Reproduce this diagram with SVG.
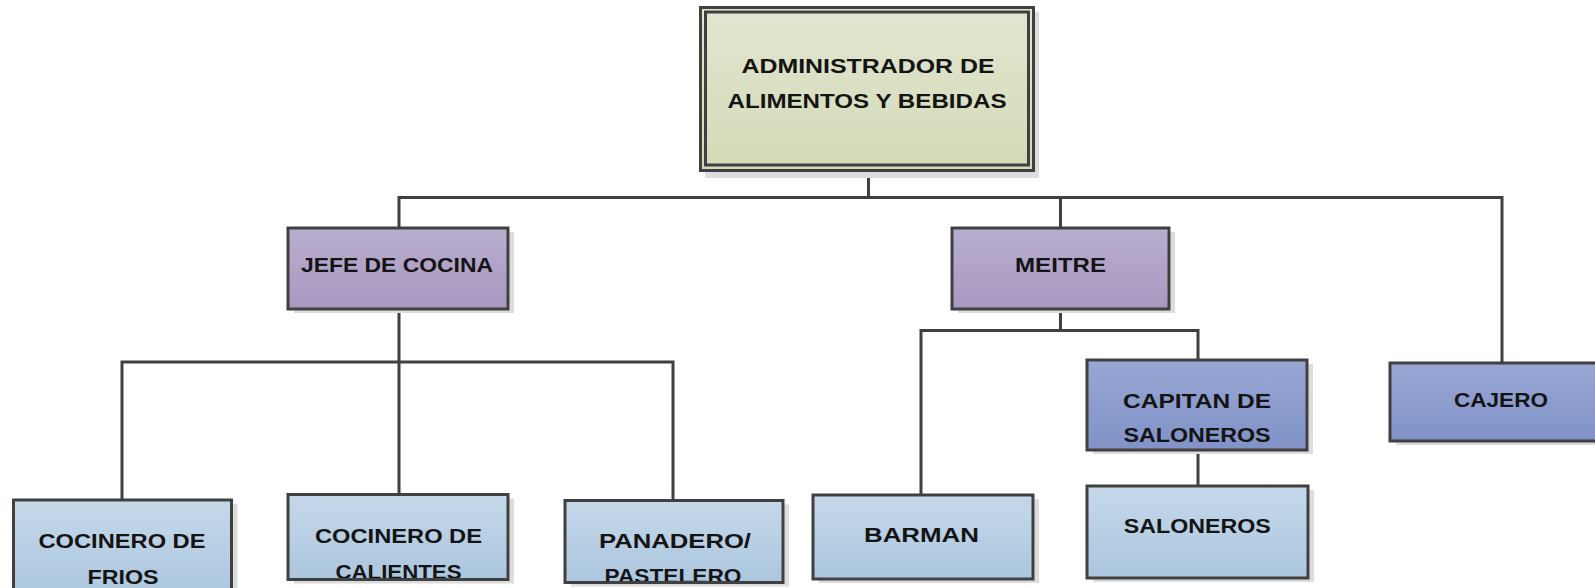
<svg xmlns="http://www.w3.org/2000/svg" width="1595" height="588" viewBox="0 0 1595 588">
<defs>
<linearGradient id="gGreen" x1="0" y1="0" x2="0" y2="1"><stop offset="0" stop-color="#e1e6d0"/><stop offset="1" stop-color="#d4dab7"/></linearGradient>
<linearGradient id="gPurple" x1="0" y1="0" x2="0" y2="1"><stop offset="0" stop-color="#b9aecf"/><stop offset="1" stop-color="#a898c0"/></linearGradient>
<linearGradient id="gBlue" x1="0" y1="0" x2="0" y2="1"><stop offset="0" stop-color="#98a7d4"/><stop offset="1" stop-color="#8092c7"/></linearGradient>
<linearGradient id="gLight" x1="0" y1="0" x2="0" y2="1"><stop offset="0" stop-color="#c5d8ea"/><stop offset="1" stop-color="#abc6de"/></linearGradient>
</defs>
<style>
.shadow{fill:#dcdcdc}
.border{fill:none;stroke:#404040;stroke-width:3}
.conn{fill:none;stroke:#404040;stroke-width:3}
.green{fill:url(#gGreen)}
.purple{fill:url(#gPurple)}
.blue{fill:url(#gBlue)}
.light{fill:url(#gLight)}
text{font-family:"Liberation Sans",Arial,sans-serif;font-weight:bold;font-size:21px;fill:#141414;text-anchor:middle}
</style>
<rect width="1595" height="588" fill="#ffffff"/>
<g id="connectors">
<path class="conn" d="M868.5,172 V197.5 M399,197.5 H1502 M399,196 V228 M1060.5,196 V228 M1502,196 V363"/>
<path class="conn" d="M399,309 V494.5 M122,362 H673 M122,360.5 V500 M673,360.5 V500.5"/>
<path class="conn" d="M1060.5,309 V330.5 M921,330.5 H1198 M921,329 V495 M1198,329 V360 M1198,450 V486"/>
</g>
<g id="node-admin">
<rect class="shadow" x="705" y="12" width="334" height="166"/>
<rect class="green" x="700.5" y="7.5" width="333" height="163"/>
<rect class="border" x="700.5" y="7.5" width="333" height="163"/>
<rect class="border" x="705.5" y="12" width="323" height="153"/>
<text x="868" y="72.7" textLength="253" lengthAdjust="spacingAndGlyphs">ADMINISTRADOR DE</text>
<text x="867" y="108.3" textLength="279" lengthAdjust="spacingAndGlyphs">ALIMENTOS Y BEBIDAS</text>
</g>
<g id="node-jefe">
<rect class="shadow" x="294" y="232" width="220" height="81"/>
<rect class="purple" x="288" y="228" width="220" height="81"/>
<text x="397" y="272.3" textLength="192" lengthAdjust="spacingAndGlyphs">JEFE DE COCINA</text>
<rect class="border" x="288" y="228" width="220" height="81"/>
</g>
<g id="node-meitre">
<rect class="shadow" x="958" y="232" width="217" height="81"/>
<rect class="purple" x="952" y="228" width="217" height="81"/>
<text x="1060.5" y="272.3" textLength="91" lengthAdjust="spacingAndGlyphs">MEITRE</text>
<rect class="border" x="952" y="228" width="217" height="81"/>
</g>
<g id="node-capitan">
<rect class="shadow" x="1093" y="364" width="220" height="90"/>
<rect class="blue" x="1087" y="360" width="220" height="90"/>
<text x="1197" y="407.7" textLength="148" lengthAdjust="spacingAndGlyphs">CAPITAN DE</text>
<text x="1197" y="441.7" textLength="147" lengthAdjust="spacingAndGlyphs">SALONEROS</text>
<rect class="border" x="1087" y="360" width="220" height="90"/>
</g>
<g id="node-cajero">
<rect class="shadow" x="1396" y="367" width="220" height="78"/>
<rect class="blue" x="1390" y="363" width="220" height="78"/>
<text x="1501" y="406.7" textLength="94" lengthAdjust="spacingAndGlyphs">CAJERO</text>
<rect class="border" x="1390" y="363" width="220" height="78"/>
</g>
<g id="node-frios">
<rect class="shadow" x="19.5" y="504" width="218" height="100"/>
<rect class="light" x="13.5" y="500" width="218" height="100"/>
<text x="122" y="548.3" textLength="167" lengthAdjust="spacingAndGlyphs">COCINERO DE</text>
<text x="123" y="583.5" textLength="71" lengthAdjust="spacingAndGlyphs">FRIOS</text>
<rect class="border" x="13.5" y="500" width="218" height="100"/>
</g>
<g id="node-calientes">
<rect class="shadow" x="294" y="498.5" width="220" height="85"/>
<rect class="light" x="288" y="494.5" width="220" height="85"/>
<text x="398.5" y="542.7" textLength="167" lengthAdjust="spacingAndGlyphs">COCINERO DE</text>
<text x="398.5" y="578.5" textLength="126" lengthAdjust="spacingAndGlyphs">CALIENTES</text>
<rect class="border" x="288" y="494.5" width="220" height="85"/>
</g>
<g id="node-panadero">
<rect class="shadow" x="571" y="504.5" width="218" height="82"/>
<rect class="light" x="565" y="500.5" width="218" height="82"/>
<text x="675" y="548.3" textLength="152" lengthAdjust="spacingAndGlyphs">PANADERO/</text>
<text x="673" y="583" textLength="137" lengthAdjust="spacingAndGlyphs">PASTELERO</text>
<rect class="border" x="565" y="500.5" width="218" height="82"/>
</g>
<g id="node-barman">
<rect class="shadow" x="819" y="499" width="220" height="84"/>
<rect class="light" x="813" y="495" width="220" height="84"/>
<text x="921.5" y="542.3" textLength="115" lengthAdjust="spacingAndGlyphs">BARMAN</text>
<rect class="border" x="813" y="495" width="220" height="84"/>
</g>
<g id="node-saloneros">
<rect class="shadow" x="1093" y="490" width="221" height="92"/>
<rect class="light" x="1087" y="486" width="221" height="92"/>
<text x="1197.3" y="533.3" textLength="147" lengthAdjust="spacingAndGlyphs">SALONEROS</text>
<rect class="border" x="1087" y="486" width="221" height="92"/>
</g>
</svg>
